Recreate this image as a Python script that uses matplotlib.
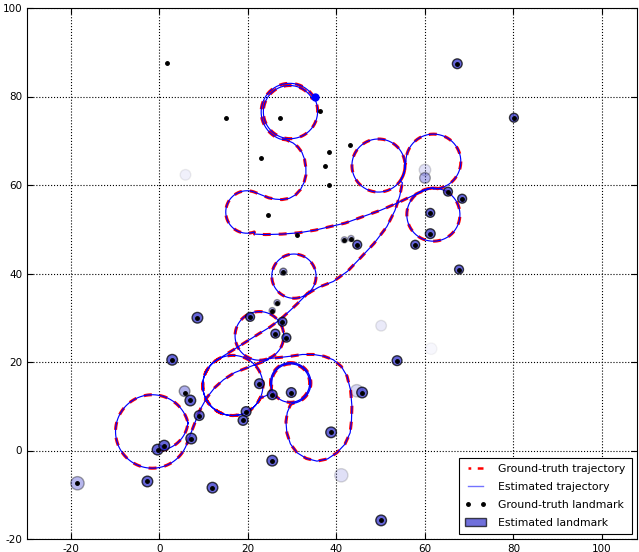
import numpy as np
import matplotlib
matplotlib.use('Agg')
import matplotlib.pyplot as plt
from matplotlib.patches import Ellipse, Patch
from matplotlib.lines import Line2D

plt.rcParams['axes.unicode_minus'] = False

# trajectory, read off the picture as pieces:
# ('arc', cx, cy, r_start, r_end, deg_start, deg_end) or ('pts', [(x, y), ...])
traj_pieces = [
    ('arc', -0.5, 7.0, 7.0, 7.0, -85, -5),
    ('arc', -1.6, 4.3, 8.3, 8.3, 12, 340),
    ('pts', [(7.0, 3.5), (8.0, 6.2), (9.2, 9.2), (10.7, 11.9), (12.5, 14.2),
             (14.5, 16.0), (17.0, 17.6), (19.8, 18.7), (22.5, 19.7), (24.6, 20.5)]),
    ('arc', 22.6, 25.9, 5.5, 5.5, -68, 292),
    ('pts', [(27.0, 21.0), (29.6, 21.3), (32.3, 21.7), (34.8, 21.7), (37.2, 21.3),
             (39.3, 20.5), (41.1, 19.0), (42.4, 16.8), (43.2, 13.6), (43.5, 10.0),
             (43.4, 6.8), (43.1, 4.0), (41.9, 1.4), (40.1, -0.5), (38.0, -1.9),
             (35.6, -2.4), (33.2, -1.8), (31.1, -0.5), (29.6, 1.5), (28.8, 4.0),
             (28.6, 6.5), (28.9, 8.6), (29.6, 10.3)]),
    ('arc', 29.6, 15.3, 4.7, 4.2, -85, 540),
    ('pts', [(25.3, 13.8), (24.6, 12.6)]),
    ('arc', 16.6, 14.7, 6.8, 6.8, -25, -600),
    ('pts', [(16.8, 22.8), (19.5, 24.5), (22.5, 26.4), (25.0, 27.9), (27.3, 29.6),
             (29.5, 31.6), (31.5, 33.5), (33.0, 35.0)]),
    ('arc', 30.4, 39.4, 5.0, 5.0, -55, 305),
    ('pts', [(36.0, 36.9), (39.3, 38.2), (42.5, 40.5), (45.4, 43.5), (48.5, 46.8),
             (51.4, 50.6), (53.2, 54.2), (54.3, 57.5), (54.9, 60.5)]),
    ('arc', 49.5, 64.4, 6.0, 6.0, -35, 360),
    ('arc', 61.9, 65.3, 6.2, 6.2, 180, -90),
    ('arc', 61.9, 53.3, 6.0, 6.0, 90, 455),
    ('pts', [(58.5, 58.2), (56.0, 57.0), (53.7, 55.9), (50.0, 54.3), (46.1, 52.9),
             (42.0, 51.4), (38.6, 50.6), (35.2, 49.8), (31.5, 49.2), (27.7, 48.9),
             (24.0, 48.8), (21.5, 48.9)]),
    ('arc', 19.8, 53.9, 4.8, 4.8, -70, -290),
    ('pts', [(23.2, 57.7), (24.7, 57.1), (26.2, 56.8), (27.7, 56.7), (29.4, 57.0),
             (30.8, 57.8), (31.9, 59.0), (32.7, 60.6), (33.1, 62.2), (33.1, 63.9),
             (32.8, 65.8), (32.2, 67.4), (31.3, 68.6), (30.2, 69.5), (28.7, 70.2)]),
    ('arc', 29.5, 76.6, 6.6, 5.8, -110, -691),
]

# ground-truth landmarks
gt_x = [1.8, 67.3, 80.1, 15.1, 27.3, 36.2, 23.0, 38.4, 43.1, 37.5, 38.4, 24.6, 31.2,
        41.8, 43.3, 44.7, 57.8, 61.2, 61.2, 65.2, 68.4, 67.7, 28.0, 26.6, 25.5, 8.6,
        20.5, 27.8, 26.2, 28.7, 2.9, 53.7, 5.9, 7.0, 22.6, 25.5, 29.8, 9.0, 19.6, 18.9,
        7.2, -0.4, 1.1, -2.7, -18.5, 12.0, 25.5, 38.8, 45.8, 50.1]
gt_y = [87.6, 87.4, 75.2, 75.2, 75.2, 76.8, 66.1, 67.5, 69.0, 64.3, 60.0, 53.3, 48.8,
        47.6, 47.9, 46.5, 46.5, 53.7, 49.0, 58.5, 56.9, 40.9, 40.4, 33.4, 31.6, 30.0,
        30.2, 29.1, 26.4, 25.5, 20.5, 20.3, 13.1, 11.3, 15.1, 12.6, 13.1, 7.9, 8.8, 6.8,
        2.7, 0.2, 1.1, -7.0, -7.4, -8.4, -2.3, 4.1, 13.1, -15.8]

# estimated landmarks: position, size of the ellipse, weight (drawn as alpha)
est_x = [67.3, 80.1, 41.8, 43.3, 44.7, 57.8, 61.2, 61.2, 65.2, 68.4, 60.0, 60.0, 67.7,
         28.0, 26.6, 25.5, 8.6, 20.5, 27.8, 26.2, 28.7, 2.9, 53.7, 5.7, 7.0, 22.6, 25.5,
         29.8, 9.0, 19.6, 18.9, 7.2, -0.4, 1.1, -2.7, -18.5, 12.0, 25.5, 38.8, 44.6,
         45.8, 50.1, 41.1, 50.1, 5.9, 61.4]
est_y = [87.4, 75.2, 47.6, 47.9, 46.5, 46.5, 53.7, 49.0, 58.5, 56.9, 63.4, 61.6, 40.9,
         40.4, 33.4, 31.6, 30.0, 30.2, 29.1, 26.4, 25.5, 20.5, 20.3, 13.4, 11.3, 15.1,
         12.6, 13.1, 7.9, 8.8, 6.8, 2.7, 0.2, 1.1, -7.0, -7.4, -8.4, -2.3, 4.1, 13.5,
         13.1, -15.8, -5.6, 28.2, 62.3, 23.0]
est_r = [1.1, 1.0, 0.7, 0.7, 1.0, 1.0, 1.0, 1.1, 1.0, 1.0, 1.3, 1.2, 1.0,
         0.8, 0.7, 0.7, 1.2, 1.0, 1.0, 1.0, 1.0, 1.2, 1.1, 1.2, 1.2, 1.1, 1.1,
         1.1, 1.1, 1.1, 1.1, 1.2, 1.2, 1.2, 1.2, 1.5, 1.2, 1.2, 1.2, 1.4,
         1.2, 1.2, 1.5, 1.2, 1.2, 1.3]
est_w = [0.75, 0.75, 0.35, 0.35, 0.75, 0.75, 0.75, 0.75, 0.75, 0.75, 0.15, 0.35, 0.75,
         0.5, 0.4, 0.4, 0.75, 0.75, 0.75, 0.75, 0.75, 0.75, 0.75, 0.4, 0.75, 0.75, 0.75,
         0.75, 0.75, 0.75, 0.75, 0.75, 0.75, 0.75, 0.75, 0.35, 0.75, 0.75, 0.75, 0.2,
         0.75, 0.75, 0.15, 0.1, 0.07, 0.04]

robot_pose = (35.1, 79.8)


def build_path(pieces):
    xs, ys = [], []
    for p in pieces:
        if p[0] == 'arc':
            _, cx, cy, r0, r1, a0, a1 = p
            n = max(int(abs(a1 - a0) / 2), 2)
            t = np.radians(np.linspace(a0, a1, n))
            r = np.linspace(r0, r1, n)
            xs.extend(cx + r * np.cos(t))
            ys.extend(cy + r * np.sin(t))
        else:
            for x, y in p[1]:
                xs.append(x)
                ys.append(y)
    return np.array(xs), np.array(ys)


tx, ty = build_path(traj_pieces)

fig = plt.figure(figsize=(6.39, 5.52), dpi=100)
ax = fig.add_axes([27 / 639, 13 / 552, 610 / 639, 531 / 552])

gt_style = (0, (2.6, 2.6))
ax.plot(tx, ty, color='r', lw=2.2, linestyle=gt_style, zorder=2)
ax.plot(tx, ty, color='b', lw=0.85, zorder=3)

lm_color = (0.2, 0.2, 0.8)
for x, y, r, w in zip(est_x, est_y, est_r, est_w):
    ax.add_patch(Ellipse((x, y), 2 * r, 2 * r, facecolor=lm_color,
                         edgecolor='k', lw=1.0, alpha=w, zorder=4))

ax.plot(*robot_pose, 'o', color='b', ms=6, mec='none', zorder=5)
ax.plot(gt_x, gt_y, 'k.', ms=5, zorder=6)

ax.set_xlim(-29.9, 107.9)
ax.set_ylim(-20, 100)
ax.set_xticks(np.arange(-20, 101, 20))
ax.set_yticks(np.arange(-20, 101, 20))
ax.grid(True, color='k', linestyle=':', lw=0.8)
ax.set_axisbelow(True)
ax.tick_params(direction='in', top=True, right=True, labelsize=7.5, length=4)

handles = [
    Line2D([], [], color='r', lw=1.8, linestyle=(1.5, (2.6, 2.6))),
    Line2D([], [], color='b', lw=1.0, alpha=0.55),
    Line2D([], [], color='k', marker='.', ms=5, linestyle='none'),
    Patch(facecolor=lm_color, edgecolor='k', alpha=0.7),
]
labels = ['Ground-truth trajectory', 'Estimated trajectory',
          'Ground-truth landmark', 'Estimated landmark']
leg = ax.legend(handles, labels, loc='lower right', fontsize=7.8, numpoints=2,
                fancybox=False, framealpha=1, edgecolor='k', labelspacing=0.72,
                borderpad=0.55, handlelength=2.0, handletextpad=1.1,
                borderaxespad=0.5)
leg.get_frame().set_linewidth(0.8)

fig.savefig('out.png', dpi=100)
